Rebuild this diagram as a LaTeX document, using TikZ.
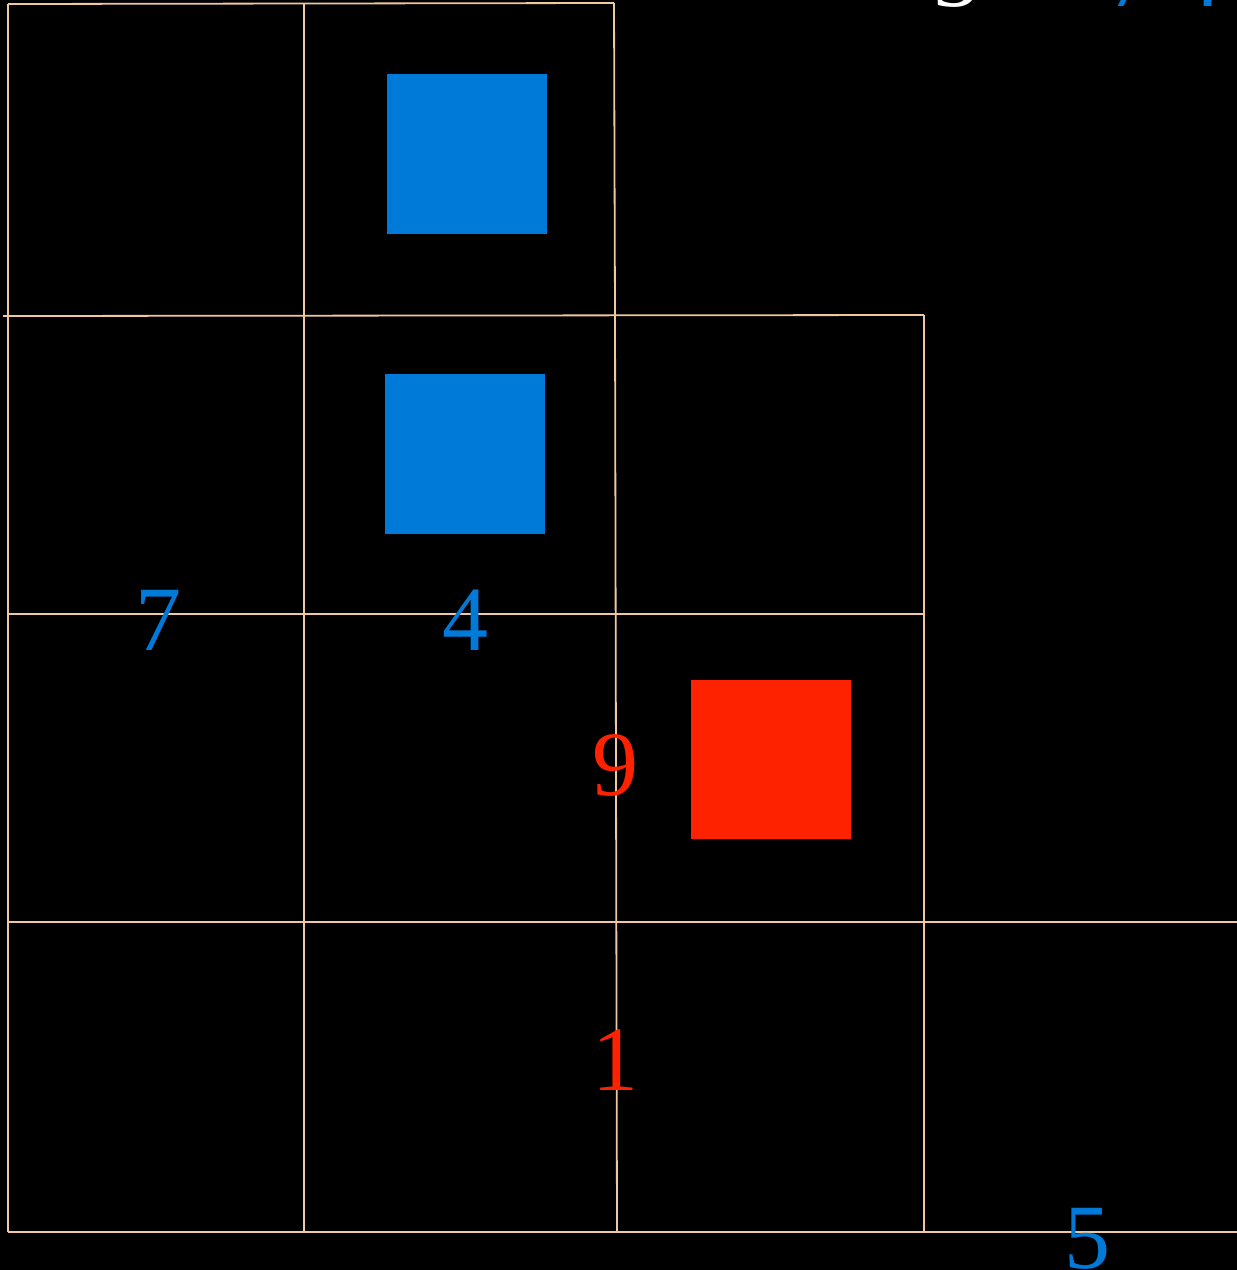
\documentclass[tikz,border=0pt]{standalone}
\usepackage{fontspec}
\setmainfont{Liberation Serif}
\definecolor{gridc}{RGB}{240,200,160}
\definecolor{sqblue}{RGB}{0,122,217}
\definecolor{sqred}{RGB}{255,34,0}
\begin{document}
\begin{tikzpicture}[x=1pt,y=-1pt,
  gridline/.style={draw=gridc,line width=1.8pt},
  bluesq/.style={fill=sqblue},
  redsq/.style={fill=sqred},
  num/.style={anchor=base,inner sep=0pt,font=\fontsize{92}{92}\selectfont},
]
\useasboundingbox (0,0) rectangle (1237,1270);
\fill[black] (0,0) rectangle (1237,1270);
\clip (0,0) rectangle (1237,1270);
% grid corners
\coordinate (tl) at (8,4);
\coordinate (tm) at (304,4);
\coordinate (tr) at (614,3);
\coordinate (m1l) at (3,316);
\coordinate (m1c) at (615,315);
\coordinate (m1r) at (924,315);
\coordinate (m2l) at (8,614);
\coordinate (m2r) at (924,614);
\coordinate (m3l) at (8,922);
\coordinate (m3r) at (1237,922);
\coordinate (bl) at (8,1232);
\coordinate (bm) at (304,1232);
\coordinate (bc) at (617,1232);
\coordinate (bq) at (924,1232);
\coordinate (br) at (1237,1232);
% lines
\draw[gridline] (tl) -- (tr);
\draw[gridline] (m1l) -- (m1r);
\draw[gridline] (m2l) -- (m2r);
\draw[gridline] (m3l) -- (m3r);
\draw[gridline] (bl) -- (br);
\draw[gridline] (tl) -- (bl);
\draw[gridline] (tm) -- (bm);
\draw[gridline] (tr) -- (m1c) -- (bc);
\draw[gridline] (m1r) -- (bq);
% squares
\fill[bluesq] (387,74) rectangle (547,234);
\fill[bluesq] (385,374) rectangle (545,534);
\fill[redsq] (691,680) rectangle (851,839);
% numbers
\node[num,text=sqblue] (n7) at (158,650) {7};
\node[num,text=sqblue] (n4) at (465,650) {4};
\node[num,text=sqred] (n9) at (615,795) {9};
\node[num,text=sqred] (n1) at (615,1090) {1};
\node[num,text=sqblue] (n5) at (1087,1268) {5};
% cut-off text at top right
\node[num,text=white] (t3) at (956,6) {3};
\node[num,text=sqblue] (t7) at (1130,6) {7};
\node[num,text=sqblue] (t4) at (1198,6) {4};
\end{tikzpicture}
\end{document}
